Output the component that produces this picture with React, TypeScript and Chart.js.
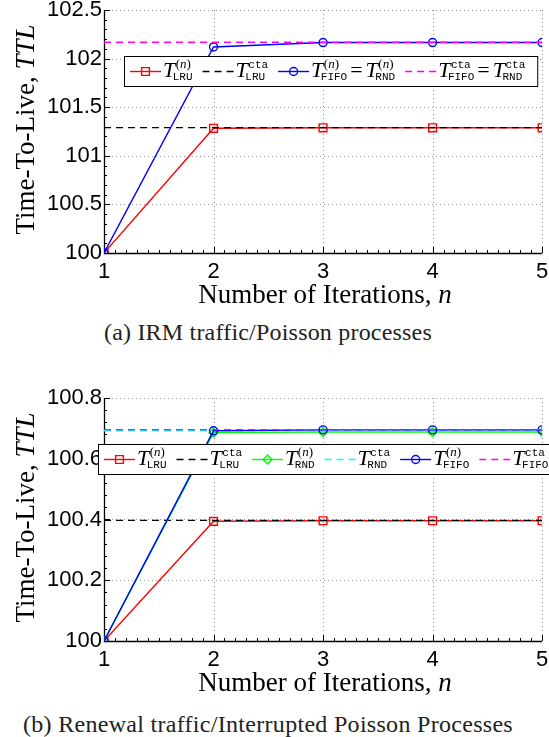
import React, { useEffect, useMemo, useRef } from "react";
import { Chart, registerables } from "chart.js";

Chart.register(...registerables);

// ---------- data ----------
const iterations = [1, 2, 3, 4, 5];
const xTickValues = [1, 2, 3, 4, 5];
const xTickLabels = ["1", "2", "3", "4", "5"];

// (a) IRM traffic / Poisson processes
const irmLru = [100, 101.283, 101.288, 101.288, 101.288];
const irmLruCta = [101.29, 101.29, 101.29, 101.29, 101.29];
const irmFifoRnd = [100, 102.12, 102.165, 102.165, 102.165];
const irmFifoRndCta = [102.168, 102.168, 102.168, 102.168, 102.168];
const irmYTickValues = [100, 100.5, 101, 101.5, 102, 102.5];
const irmYTickLabels = ["100", "100.5", "101", "101.5", "102", "102.5"];

// (b) Renewal traffic / Interrupted Poisson processes
const renLru = [100, 100.394, 100.396, 100.396, 100.396];
const renLruCta = [100.397, 100.397, 100.397, 100.397, 100.397];
const renRnd = [100, 100.686, 100.688, 100.688, 100.688];
const renRndCta = [100.692, 100.692, 100.692, 100.692, 100.692];
const renFifo = [100, 100.692, 100.695, 100.695, 100.695];
const renFifoCta = [100.696, 100.696, 100.696, 100.696, 100.696];
const renYTickValues = [100, 100.2, 100.4, 100.6, 100.8];
const renYTickLabels = ["100", "100.2", "100.4", "100.6", "100.8"];

// ---------- fonts / helpers ----------
const SERIF = "'Liberation Serif', 'Times New Roman', serif";
const MONO = "'Liberation Mono', 'DejaVu Sans Mono', monospace";
const SANS = "'Liberation Sans', Arial, sans-serif";

type Seg = { t: string; f: string };
type Term = { sup: "n" | "cta"; sub: string };
type Part = Term | "=";

function segsWidth(ctx: CanvasRenderingContext2D, segs: Seg[]) {
  let w = 0;
  for (const s of segs) {
    ctx.font = s.f;
    w += ctx.measureText(s.t).width;
  }
  return w;
}
function drawSegs(ctx: CanvasRenderingContext2D, segs: Seg[], x: number, y: number) {
  for (const s of segs) {
    ctx.font = s.f;
    ctx.fillText(s.t, x, y);
    x += ctx.measureText(s.t).width;
  }
}

function drawTerm(ctx: CanvasRenderingContext2D, term: Term, x: number, base: number, draw: boolean) {
  ctx.font = `italic 22px ${SERIF}`;
  const tW = ctx.measureText("T").width;
  if (draw) ctx.fillText("T", x, base);
  const sx = x + tW + 0.5;
  const supBase = base - 9;
  let supW = 0;
  if (term.sup === "n") {
    const parts: Seg[] = [
      { t: "(", f: `13px ${SERIF}` },
      { t: "n", f: `italic 13px ${SERIF}` },
      { t: ")", f: `13px ${SERIF}` },
    ];
    supW = segsWidth(ctx, parts);
    if (draw) drawSegs(ctx, parts, sx, supBase);
  } else {
    ctx.font = `11px ${MONO}`;
    supW = ctx.measureText("cta").width;
    if (draw) ctx.fillText("cta", sx, supBase);
  }
  ctx.font = `11px ${MONO}`;
  const bx = x + tW - 2.5;
  const subW = ctx.measureText(term.sub).width;
  if (draw) ctx.fillText(term.sub, bx, base + 3);
  return Math.max(sx + supW, bx + subW) - x;
}

function drawLabel(ctx: CanvasRenderingContext2D, parts: Part[], x: number, base: number, draw: boolean) {
  let cx = x;
  for (const p of parts) {
    if (p === "=") {
      ctx.font = `22px ${SERIF}`;
      cx += 3;
      if (draw) ctx.fillText("=", cx, base);
      cx += ctx.measureText("=").width + 3;
    } else {
      cx += drawTerm(ctx, p, cx, base, draw);
    }
  }
  return cx - x;
}

function drawMarker(ctx: CanvasRenderingContext2D, style: string, x: number, y: number, r: number) {
  ctx.beginPath();
  if (style === "rect") {
    const s = Math.SQRT1_2 * r;
    ctx.rect(x - s, y - s, 2 * s, 2 * s);
  } else if (style === "rectRot") {
    ctx.moveTo(x, y - r);
    ctx.lineTo(x + r, y);
    ctx.lineTo(x, y + r);
    ctx.lineTo(x - r, y);
    ctx.closePath();
  } else {
    ctx.arc(x, y, r, 0, Math.PI * 2);
  }
  ctx.stroke();
}

// ---------- plugins ----------
const framePlugin = {
  id: "frame",
  beforeDatasetsDraw(chart: any, _a: any, opts: any) {
    const { ctx, chartArea: a } = chart;
    const xs = chart.scales.x;
    const ys = chart.scales.y;
    ctx.save();
    // dotted grid
    ctx.strokeStyle = "#9a9a9a";
    ctx.lineWidth = 1;
    ctx.setLineDash([1, 3]);
    for (const t of xs.ticks) {
      if (t.value === xs.min) continue;
      const px = Math.round(xs.getPixelForValue(t.value)) + 0.5;
      ctx.beginPath();
      ctx.moveTo(px, a.top);
      ctx.lineTo(px, a.bottom);
      ctx.stroke();
    }
    for (const t of ys.ticks) {
      if (t.value === ys.min) continue;
      const py = Math.round(ys.getPixelForValue(t.value)) + 0.5;
      ctx.beginPath();
      ctx.moveTo(a.left, py);
      ctx.lineTo(a.right, py);
      ctx.stroke();
    }
    ctx.setLineDash([]);
    ctx.strokeStyle = "#000";
    ctx.lineWidth = 1;
    // minor ticks (inward)
    const nx = Math.round((xs.max - xs.min) / opts.xMinor);
    for (let k = 0; k <= nx; k++) {
      const px = Math.round(xs.getPixelForValue(xs.min + k * opts.xMinor)) + 0.5;
      ctx.beginPath();
      ctx.moveTo(px, a.bottom);
      ctx.lineTo(px, a.bottom - 3);
      ctx.stroke();
    }
    const ny = Math.round((ys.max - ys.min) / opts.yMinor);
    for (let k = 0; k <= ny; k++) {
      const py = Math.round(ys.getPixelForValue(ys.min + k * opts.yMinor)) + 0.5;
      ctx.beginPath();
      ctx.moveTo(a.left, py);
      ctx.lineTo(a.left + 3, py);
      ctx.stroke();
    }
    // major ticks
    for (const t of xs.ticks) {
      const px = Math.round(xs.getPixelForValue(t.value)) + 0.5;
      ctx.beginPath();
      ctx.moveTo(px, a.bottom);
      ctx.lineTo(px, a.bottom - 6);
      ctx.stroke();
    }
    for (const t of ys.ticks) {
      const py = Math.round(ys.getPixelForValue(t.value)) + 0.5;
      ctx.beginPath();
      ctx.moveTo(a.left, py);
      ctx.lineTo(a.left + 6, py);
      ctx.stroke();
    }
    // axes
    ctx.lineWidth = 1.3;
    ctx.beginPath();
    ctx.moveTo(a.left + 0.5, a.top);
    ctx.lineTo(a.left + 0.5, a.bottom + 0.5);
    ctx.lineTo(a.right, a.bottom + 0.5);
    ctx.stroke();
    ctx.restore();
  },
};

const titlesPlugin = {
  id: "titles",
  afterDraw(chart: any) {
    const { ctx, chartArea: a } = chart;
    ctx.save();
    ctx.fillStyle = "#000";
    ctx.textBaseline = "alphabetic";
    ctx.textAlign = "left";
    const xt: Seg[] = [
      { t: "Number of Iterations, ", f: `27px ${SERIF}` },
      { t: "n", f: `italic 27px ${SERIF}` },
    ];
    const xw = segsWidth(ctx, xt);
    drawSegs(ctx, xt, (a.left + a.right) / 2 - xw / 2 + 2, a.bottom + 50);
    const yt: Seg[] = [
      { t: "Time-To-Live, ", f: `27px ${SERIF}` },
      { t: "TTL", f: `italic 27px ${SERIF}` },
    ];
    const yw = segsWidth(ctx, yt);
    ctx.translate(34, (a.top + a.bottom) / 2 - 2);
    ctx.rotate(-Math.PI / 2);
    drawSegs(ctx, yt, -yw / 2, 0);
    ctx.restore();
  },
};

const legendPlugin = {
  id: "richLegend",
  afterDraw(chart: any, _a: any, opts: any) {
    const { ctx, chartArea: a } = chart;
    const datasets = chart.data.datasets;
    const labels: Part[][] = opts.labels;
    const boxLeft = a.left + opts.dx;
    const boxTop = a.top + 46;
    const boxH = 30;
    const lineY = boxTop + 15.5;
    const base = boxTop + 21;
    const sampleLen = 31;
    ctx.save();
    ctx.textBaseline = "alphabetic";
    ctx.textAlign = "left";
    let x = boxLeft + 6;
    const starts: number[] = [];
    labels.forEach((lab, i) => {
      starts.push(x);
      x += sampleLen + 2;
      x += drawLabel(ctx, lab, x, base, false);
      if (i < labels.length - 1) x += 10;
    });
    const boxRight = x + 12;
    ctx.fillStyle = "#fff";
    ctx.fillRect(boxLeft, boxTop, boxRight - boxLeft, boxH);
    ctx.strokeStyle = "#000";
    ctx.lineWidth = 1;
    ctx.strokeRect(boxLeft + 0.5, boxTop + 0.5, boxRight - boxLeft, boxH);
    labels.forEach((lab, i) => {
      const ds = datasets[i];
      const sx = starts[i];
      ctx.strokeStyle = ds.borderColor;
      ctx.lineWidth = ds.borderWidth;
      ctx.setLineDash(ds.borderDash || []);
      ctx.beginPath();
      ctx.moveTo(sx, lineY);
      ctx.lineTo(sx + sampleLen, lineY);
      ctx.stroke();
      ctx.setLineDash([]);
      if (ds.pointRadius > 0) {
        ctx.lineWidth = ds.pointBorderWidth;
        drawMarker(ctx, ds.pointStyle, sx + sampleLen / 2, lineY, ds.pointRadius);
      }
      ctx.fillStyle = "#000";
      drawLabel(ctx, lab, sx + sampleLen + 2, base, true);
    });
    ctx.restore();
  },
};

// ---------- dataset builders ----------
const pts = (vals: number[]) => iterations.map((x, i) => ({ x, y: vals[i] }));

function solid(label: string, vals: number[], color: string, marker: string, radius: number, order: number) {
  return {
    label,
    data: pts(vals),
    borderColor: color,
    borderWidth: 1.4,
    pointStyle: marker,
    pointRadius: radius,
    pointBorderColor: color,
    pointBackgroundColor: "rgba(0,0,0,0)",
    pointBorderWidth: 1.4,
    fill: false,
    tension: 0,
    order,
  };
}
function dashed(label: string, vals: number[], color: string, order: number) {
  return {
    label,
    data: pts(vals),
    borderColor: color,
    borderWidth: 1.4,
    borderDash: [7, 5],
    pointRadius: 0,
    fill: false,
    tension: 0,
    order,
  };
}

function makeConfig(datasets: any[], yVals: number[], yLabels: string[], yMinor: number, legendLabels: Part[][], dx: number) {
  return {
    type: "line",
    data: { datasets },
    options: {
      animation: false,
      responsive: false,
      events: [],
      layout: { padding: { top: 10, right: 4, left: 0, bottom: 0 } },
      plugins: {
        legend: { display: false },
        tooltip: { enabled: false },
        frame: { xMinor: 0.1, yMinor },
        richLegend: { labels: legendLabels, dx },
      },
      scales: {
        x: {
          type: "linear",
          min: xTickValues[0],
          max: xTickValues[xTickValues.length - 1],
          afterBuildTicks: (s: any) => {
            s.ticks = xTickValues.map((v) => ({ value: v }));
          },
          ticks: {
            callback: (_v: any, i: number) => xTickLabels[i],
            font: { family: SANS, size: 22 },
            color: "#000",
            padding: 6,
            maxRotation: 0,
            autoSkip: false,
          },
          grid: { display: false, drawTicks: false },
          border: { display: false },
          afterFit: (s: any) => {
            s.height = 57;
            s.paddingLeft = 0;
            s.paddingRight = 0;
          },
        },
        y: {
          type: "linear",
          min: yVals[0],
          max: yVals[yVals.length - 1],
          afterBuildTicks: (s: any) => {
            s.ticks = yVals.map((v) => ({ value: v }));
          },
          ticks: {
            callback: (_v: any, i: number) => yLabels[i],
            font: { family: SANS, size: 22 },
            color: "#000",
            padding: 2,
            autoSkip: false,
          },
          grid: { display: false, drawTicks: false },
          border: { display: false },
          afterFit: (s: any) => {
            s.width = 104;
            s.paddingTop = 0;
            s.paddingBottom = 0;
          },
        },
      },
    },
    plugins: [framePlugin, titlesPlugin, legendPlugin],
  };
}

const CAPTION_FONT = `24px ${SERIF}`;

function Caption({ text, top, left, width }: any) {
  const spacing = useMemo(() => {
    const c = document.createElement("canvas").getContext("2d");
    if (!c) return 0;
    c.font = CAPTION_FONT;
    const w = c.measureText(text).width;
    return (width - w) / text.length;
  }, [text, width]);
  return (
    <div
      style={{
        position: "absolute",
        left,
        top,
        font: CAPTION_FONT,
        lineHeight: "24px",
        letterSpacing: `${spacing}px`,
        color: "#222",
        whiteSpace: "nowrap",
      }}
    >
      {text}
    </div>
  );
}

function ChartPanel({ config, top, caption }: any) {
  const ref = useRef<HTMLCanvasElement | null>(null);
  useEffect(() => {
    if (!ref.current) return;
    const chart = new Chart(ref.current, config);
    return () => chart.destroy();
  }, [config]);
  return (
    <div style={{ position: "absolute", left: 0, top, width: 549, height: 360 }}>
      <canvas ref={ref} width={549} height={310} style={{ display: "block", width: 549, height: 310 }} />
      <Caption text={caption.text} top={caption.top} left={caption.left} width={caption.width} />
    </div>
  );
}

const configA = makeConfig(
  [
    solid("T(n) LRU", irmLru, "#ff0000", "rect", 5.5, 4),
    dashed("Tcta LRU", irmLruCta, "#000000", 3),
    solid("T(n) FIFO = T(n) RND", irmFifoRnd, "#0000ff", "circle", 4, 2),
    dashed("Tcta FIFO = Tcta RND", irmFifoRndCta, "#ff00ff", 1),
  ],
  irmYTickValues,
  irmYTickLabels,
  0.1,
  [
    [{ sup: "n", sub: "LRU" }],
    [{ sup: "cta", sub: "LRU" }],
    [{ sup: "n", sub: "FIFO" }, "=", { sup: "n", sub: "RND" }],
    [{ sup: "cta", sub: "FIFO" }, "=", { sup: "cta", sub: "RND" }],
  ],
  20
);

const configB = makeConfig(
  [
    solid("T(n) LRU", renLru, "#ff0000", "rect", 5.5, 6),
    dashed("Tcta LRU", renLruCta, "#000000", 5),
    solid("T(n) RND", renRnd, "#00ff00", "rectRot", 4.5, 4),
    dashed("Tcta RND", renRndCta, "#00ffff", 3),
    solid("T(n) FIFO", renFifo, "#0000ff", "circle", 4, 2),
    dashed("Tcta FIFO", renFifoCta, "#ff00ff", 1),
  ],
  renYTickValues,
  renYTickLabels,
  0.04,
  [
    [{ sup: "n", sub: "LRU" }],
    [{ sup: "cta", sub: "LRU" }],
    [{ sup: "n", sub: "RND" }],
    [{ sup: "cta", sub: "RND" }],
    [{ sup: "n", sub: "FIFO" }],
    [{ sup: "cta", sub: "FIFO" }],
  ],
  -6
);

const captionA = { text: "(a) IRM traffic/Poisson processes", top: 320, left: 104, width: 328 };
const captionB = { text: "(b) Renewal traffic/Interrupted Poisson Processes", top: 324, left: 23, width: 490 };

export default function App() {
  return (
    <div style={{ position: "absolute", left: 0, top: 0, width: 549, height: 737, overflow: "hidden", background: "#fff" }}>
      <ChartPanel config={configA} top={0} caption={captionA} />
      <ChartPanel config={configB} top={388} caption={captionB} />
    </div>
  );
}
